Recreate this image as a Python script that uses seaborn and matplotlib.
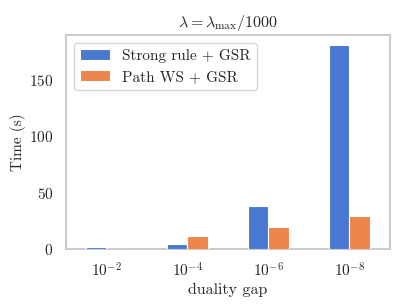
import pandas as pd
import seaborn as sns
import matplotlib.pyplot as plt

gaps = ["$10^{-2}$", "$10^{-4}$", "$10^{-6}$", "$10^{-8}$"]
strong_gsr = [1.6, 4.7, 38.3, 181.0]
path_ws_gsr = [0.2, 11.8, 19.4, 29.3]

df = pd.DataFrame({
    "gap": gaps * 2,
    "time": strong_gsr + path_ws_gsr,
    "method": ["Strong rule + GSR"] * 4 + ["Path WS + GSR"] * 4,
})

sns.set_theme(style="white", palette="muted",
              rc={"axes.edgecolor": ".8", "axes.linewidth": 1.5})
plt.rcParams["font.family"] = ["cmr10", "DejaVu Serif"]
plt.rcParams["mathtext.fontset"] = "cm"
plt.rcParams["axes.formatter.use_mathtext"] = True

fig, ax = plt.subplots(figsize=(4.07, 3.05), dpi=100)
fig.subplots_adjust(left=0.162, right=0.958, bottom=0.184, top=0.885)
sns.barplot(data=df, x="gap", y="time", hue="method", width=0.5,
            saturation=1, edgecolor="white", linewidth=0.8, ax=ax)
# keep bars on top of the bottom spine so the tiny 1e-2 bar shows
for p in ax.patches:
    p.set_zorder(3)

ax.set_title(r"$\lambda = \lambda_{\max}/1000$", fontsize=11.5)
ax.set_xlabel("duality gap", fontsize=11.5, labelpad=2)
ax.set_ylabel("Time (s)", fontsize=11, labelpad=2)
ax.tick_params(labelsize=11, pad=3)
ax.set_yticks([0, 50, 100, 150])
leg = ax.legend(loc="upper left", fontsize=11, title=None)
leg.get_frame().set_edgecolor(".8")

plt.savefig("out.png", dpi=100)
